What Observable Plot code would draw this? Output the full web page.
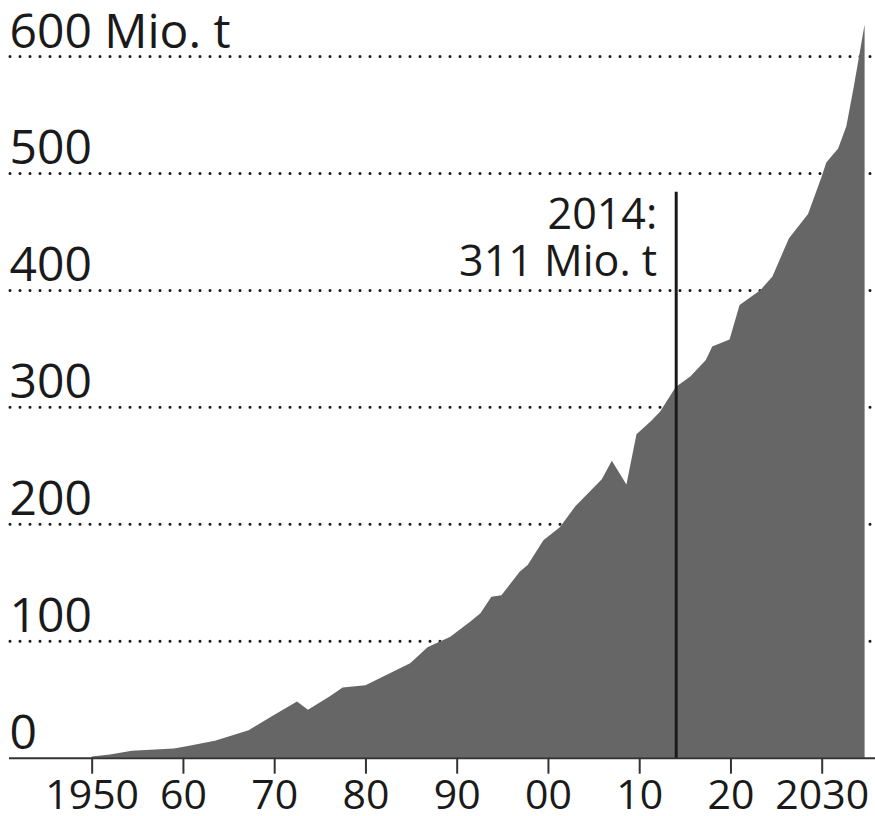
<!DOCTYPE html>
<html>
<head>
<meta charset="utf-8">
<script src="https://cdn.jsdelivr.net/npm/d3@7"></script>
<script src="https://cdn.jsdelivr.net/npm/@observablehq/plot@0.6"></script>
<style>
  html, body { margin: 0; padding: 0; background: #fff; }
  #chart svg { display: block; }
</style>
</head>
<body>
<div id="chart"></div>
<script>
// Global plastic production, million tonnes
const years = [1950, 1952, 1954.4, 1959, 1960.4, 1963.5, 1967.2, 1969.7, 1972.5, 1973.7,
  1976.1, 1977.5, 1980, 1984.9, 1986.8, 1989.3, 1991.5, 1992.6, 1993.8, 1994.9,
  1996.9, 1997.8, 1999.5, 2001.3, 2003, 2005.9, 2007, 2008.6, 2009.7, 2011.3,
  2012.3, 2014, 2015.6, 2017.3, 2018, 2019.9, 2021, 2023.3, 2024.6, 2026.4,
  2028.5, 2030, 2030.5, 2031.8, 2032.7, 2033.5, 2034.7];
const values = [1, 2.8, 6, 7.8, 9.7, 14.6, 23.4, 35.3, 48, 41,
  52.6, 60, 62, 80.7, 94.5, 103.5, 116.5, 123.5, 137.7, 139,
  159, 165, 186, 197, 215, 238, 254, 233.5, 276.5, 288,
  296, 317, 326, 340, 351.6, 357.5, 387, 400, 411.5, 444,
  465, 497, 509, 521, 540, 573, 627];

const xTicks = [1950, 1960, 1970, 1980, 1990, 2000, 2010, 2020, 2030];
const xTickLabels = ["1950", "60", "70", "80", "90", "00", "10", "20", "2030"];
const yTicks = [0, 100, 200, 300, 400, 500, 600];
const yTickLabels = ["0", "100", "200", "300", "400", "500", "600 Mio. t"];

const markerYear = 2014;
const markerTop = 484;
const markerLabel = "2014:\n311 Mio. t";

const data = years.map((year, i) => ({year, value: values[i]}));

const font = "'Open Sans', 'Noto Sans', sans-serif";
const ink = "#1a1a1a";

const chart = Plot.plot({
  width: 875,
  height: 816,
  marginLeft: 9,
  marginRight: 0,
  marginTop: 56,
  marginBottom: 58.3,
  style: {fontFamily: font, color: ink, background: "#fff"},
  x: {domain: [1940.94, 2035.84], axis: null},
  y: {domain: [0, 600], axis: null},
  marks: [
    Plot.ruleY(yTicks.filter(d => d > 0), {
      stroke: ink, strokeWidth: 3, strokeDasharray: "0 10", strokeLinecap: "round", dx: 1
    }),
    Plot.areaY(data, {x: "year", y: "value", fill: "#666666"}),
    Plot.ruleY([0], {stroke: "#333", strokeWidth: 2}),
    Plot.axisX({
      ticks: xTicks, tickFormat: (d, i) => xTickLabels[i], tickSize: 16, tickPadding: 6,
      label: null, fontSize: 41, stroke: "#333", strokeWidth: 2, fill: ink
    }),
    Plot.text(yTicks, {
      y: d => d, text: (d, i) => yTickLabels[i], frameAnchor: "left", textAnchor: "start",
      lineAnchor: "bottom", dx: 0, dy: -9, fontSize: 48, fill: ink
    }),
    Plot.ruleX([markerYear], {y1: 0, y2: markerTop, stroke: ink, strokeWidth: 3}),
    Plot.text([markerYear], {
      x: d => d, y: markerTop, text: () => markerLabel, textAnchor: "end",
      lineAnchor: "top", lineHeight: 1.1, dx: -19, dy: 3, fontSize: 43, fill: ink
    })
  ]
});

document.getElementById("chart").appendChild(chart);
</script>
</body>
</html>
